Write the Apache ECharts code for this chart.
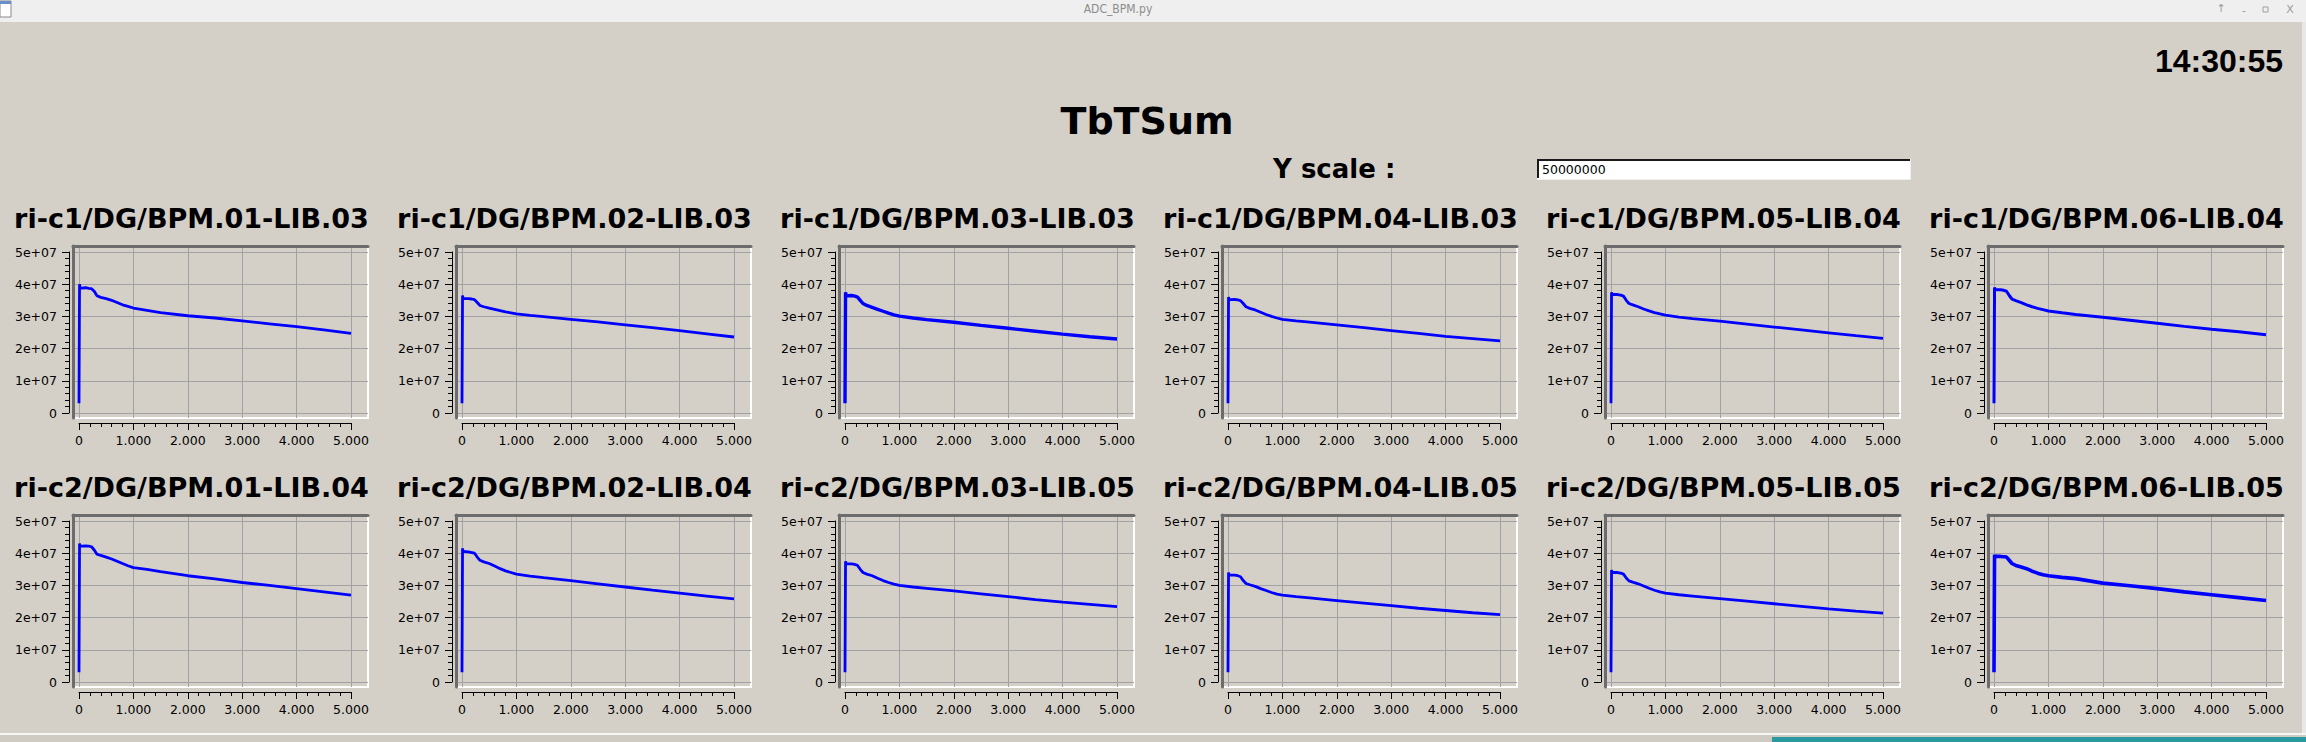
<!DOCTYPE html>
<html>
<head>
<meta charset="utf-8">
<script src="https://cdn.jsdelivr.net/npm/echarts@6/dist/echarts.min.js"></script>
<style>
html,body{margin:0;padding:0;background:#d4d0c8;}
#chart{width:2306px;height:742px;}
</style>
</head>
<body>
<div id="chart"></div>
<script>
// ---------------- DATA ----------------
const windowTitle = 'ADC_BPM.py';
const mainTitle = 'TbTSum';
const clockText = '14:30:55';
const yScaleLabel = 'Y scale :';
const yScaleValue = '50000000';

const panelTitles = [
  'ri-c1/DG/BPM.01-LIB.03', 'ri-c1/DG/BPM.02-LIB.03', 'ri-c1/DG/BPM.03-LIB.03',
  'ri-c1/DG/BPM.04-LIB.03', 'ri-c1/DG/BPM.05-LIB.04', 'ri-c1/DG/BPM.06-LIB.04',
  'ri-c2/DG/BPM.01-LIB.04', 'ri-c2/DG/BPM.02-LIB.04', 'ri-c2/DG/BPM.03-LIB.05',
  'ri-c2/DG/BPM.04-LIB.05', 'ri-c2/DG/BPM.05-LIB.05', 'ri-c2/DG/BPM.06-LIB.05'
];

const xTickValues = [0, 1000, 2000, 3000, 4000, 5000];
const xTickLabels = ['0', '1.000', '2.000', '3.000', '4.000', '5.000'];
const yTickValues = [0, 1e7, 2e7, 3e7, 4e7, 5e7];
const yTickLabels = ['0', '1e+07', '2e+07', '3e+07', '4e+07', '5e+07'];

// turn index (x) of sampled points
const turns = [0, 10, 20, 60, 120, 180, 230, 280, 330, 400, 500, 600, 700, 800, 900, 1000, 1250, 1500, 2000, 2500, 3000, 3500, 4000, 4500, 5000];
// sum values, in millions
const sum_c1_01 = [3.0, 40.0, 38.8, 38.8, 38.9, 38.7, 38.6, 37.8, 36.4, 35.9, 35.5, 35.0, 34.3, 33.6, 33.1, 32.6, 31.9, 31.2, 30.2, 29.5, 28.6, 27.7, 26.8, 25.8, 24.7];
const sum_c1_02 = [3.0, 36.5, 35.5, 35.5, 35.5, 35.4, 35.2, 34.3, 33.4, 33.0, 32.6, 32.2, 31.8, 31.4, 31.1, 30.8, 30.3, 29.9, 29.1, 28.3, 27.4, 26.5, 25.6, 24.6, 23.6];
const sum_c1_03 = [3.0, 37.5, 36.4, 36.4, 36.5, 36.3, 36.0, 35.0, 34.0, 33.4, 32.8, 32.2, 31.6, 31.0, 30.5, 30.1, 29.5, 29.0, 28.2, 27.2, 26.3, 25.4, 24.5, 23.7, 23.0];
const sum_c1_04 = [3.0, 36.0, 35.2, 35.2, 35.3, 35.1, 34.9, 34.0, 33.0, 32.5, 32.0, 31.3, 30.6, 30.0, 29.5, 29.1, 28.6, 28.2, 27.4, 26.5, 25.6, 24.7, 23.8, 23.1, 22.4];
const sum_c1_05 = [3.0, 37.5, 36.8, 36.8, 36.8, 36.6, 36.3, 35.0, 34.0, 33.6, 33.0, 32.3, 31.7, 31.2, 30.8, 30.4, 29.8, 29.3, 28.5, 27.6, 26.7, 25.8, 24.9, 24.0, 23.2];
const sum_c1_06 = [3.0, 39.0, 38.3, 38.3, 38.3, 38.1, 37.8, 36.5, 35.4, 34.9, 34.3, 33.6, 33.0, 32.5, 32.1, 31.7, 31.1, 30.6, 29.7, 28.8, 27.9, 26.9, 26.0, 25.2, 24.3];
const sum_c2_01 = [3.0, 43.0, 42.3, 42.2, 42.3, 42.2, 42.0, 41.0, 39.7, 39.3, 38.8, 38.2, 37.5, 36.8, 36.1, 35.5, 35.0, 34.3, 33.0, 32.0, 30.9, 30.0, 29.0, 28.0, 27.0];
const sum_c2_02 = [3.0, 41.5, 40.5, 40.5, 40.4, 40.2, 40.0, 38.8, 37.8, 37.3, 36.8, 36.0, 35.2, 34.5, 34.0, 33.5, 32.9, 32.4, 31.5, 30.5, 29.5, 28.5, 27.6, 26.7, 25.8];
const sum_c2_03 = [3.0, 37.5, 36.7, 36.7, 36.7, 36.5, 36.2, 35.0, 34.0, 33.5, 33.0, 32.2, 31.5, 30.9, 30.4, 30.0, 29.5, 29.1, 28.3, 27.4, 26.5, 25.6, 24.8, 24.1, 23.4];
const sum_c2_04 = [3.0, 34.0, 33.2, 33.2, 33.2, 33.0, 32.7, 31.5, 30.6, 30.2, 29.7, 29.0, 28.4, 27.8, 27.3, 27.0, 26.5, 26.1, 25.3, 24.5, 23.7, 22.9, 22.2, 21.5, 20.9];
const sum_c2_05 = [3.0, 34.8, 34.0, 34.0, 34.0, 33.8, 33.5, 32.3, 31.4, 31.0, 30.5, 29.8, 29.1, 28.5, 28.0, 27.6, 27.1, 26.7, 25.9, 25.1, 24.3, 23.5, 22.7, 22.0, 21.4];
const sum_c2_06 = [3.0, 39.5, 39.0, 39.0, 39.0, 38.9, 38.8, 37.8, 36.8, 36.2, 35.7, 35.2, 34.4, 33.8, 33.3, 33.0, 32.5, 32.1, 30.7, 29.9, 29.0, 28.0, 27.1, 26.2, 25.3];

const panelSeries = [sum_c1_01, sum_c1_02, sum_c1_03, sum_c1_04, sum_c1_05, sum_c1_06,
                     sum_c2_01, sum_c2_02, sum_c2_03, sum_c2_04, sum_c2_05, sum_c2_06];
const VALUE_UNIT = 1e6;
const X_MAX = 5000, Y_MAX = 5e7;

// ---------------- LAYOUT / STYLE ----------------
const COLS = 6;
const COL_PITCH = 383, ROW_PITCH = 269;
const DATA_LEFT0 = 79, DATA_TOP0 = 252, DATA_W = 272, DATA_H = 161;
const PAD = {l: 6, r: 17, t: 6, b: 5};
const TITLE_CX0 = 191.5, TITLE_CY0 = 218;
const lineWidths = [2.8, 2.8, 3.4, 2.8, 2.8, 3.0, 2.8, 2.8, 2.8, 2.8, 2.8, 3.6];
const FONT = 'DejaVu Sans';
const BG = '#d4d0c8';
const GRIDLINE = '#a2a2a6';

const grids = [], xAxes = [], yAxes = [], series = [], graphics = [];

panelSeries.forEach((vals, i) => {
  const c = i % COLS, r = Math.floor(i / COLS);
  const dl = DATA_LEFT0 + c * COL_PITCH;
  const dt = DATA_TOP0 + r * ROW_PITCH;
  // frame grid (sunken panel with grid lines)
  grids.push({
    left: dl - PAD.l, top: dt - PAD.t, width: DATA_W + PAD.l + PAD.r, height: DATA_H + PAD.t + PAD.b,
    show: true, borderColor: '#ffffff', borderWidth: 2, backgroundColor: 'transparent'
  });
  const fi = grids.length - 1;
  xAxes.push({
    type: 'value', gridIndex: fi, position: 'top',
    min: -PAD.l / DATA_W * X_MAX, max: X_MAX + PAD.r / DATA_W * X_MAX,
    axisLine: {show: true, onZero: false, lineStyle: {color: '#6c6c6c', width: 3}},
    axisTick: {show: false, customValues: xTickValues},
    axisLabel: {show: false, customValues: xTickValues},
    splitLine: {show: true, lineStyle: {color: GRIDLINE, width: 1}}
  });
  yAxes.push({
    type: 'value', gridIndex: fi, position: 'left',
    min: -PAD.b / DATA_H * Y_MAX, max: Y_MAX + PAD.t / DATA_H * Y_MAX,
    axisLine: {show: true, onZero: false, lineStyle: {color: '#6c6c6c', width: 3}},
    axisTick: {show: false, customValues: yTickValues},
    axisLabel: {show: false, customValues: yTickValues},
    splitLine: {show: true, lineStyle: {color: GRIDLINE, width: 1}}
  });
  // data grid with the detached scales
  grids.push({left: dl, top: dt, width: DATA_W, height: DATA_H, show: false});
  const di = grids.length - 1;
  xAxes.push({
    type: 'value', gridIndex: di, position: 'bottom', offset: 10,
    min: 0, max: X_MAX, interval: 1000,
    axisLine: {show: true, onZero: false, lineStyle: {color: '#000', width: 1}},
    axisTick: {show: true, length: 7, lineStyle: {color: '#000'}},
    minorTick: {show: true, splitNumber: 5, length: 4, lineStyle: {color: '#000'}},
    axisLabel: {show: true, margin: 11, fontSize: 12.5, fontFamily: FONT, color: '#000',
      formatter: v => xTickLabels[xTickValues.indexOf(v)] ?? ''},
    splitLine: {show: false}
  });
  yAxes.push({
    type: 'value', gridIndex: di, position: 'left', offset: 10,
    min: 0, max: Y_MAX, interval: 1e7,
    axisLine: {show: true, onZero: false, lineStyle: {color: '#000', width: 1}},
    axisTick: {show: true, length: 7, lineStyle: {color: '#000'}},
    minorTick: {show: true, splitNumber: 5, length: 4, lineStyle: {color: '#000'}},
    axisLabel: {show: true, margin: 12, fontSize: 12.5, fontFamily: FONT, color: '#000',
      formatter: v => yTickLabels[yTickValues.indexOf(v)] ?? ''},
    splitLine: {show: false}
  });
  series.push({
    type: 'line', name: panelTitles[i], xAxisIndex: di, yAxisIndex: di,
    data: turns.map((t, k) => [t, vals[k] * VALUE_UNIT]),
    showSymbol: false, symbol: 'none', silent: true, animation: false,
    lineStyle: {color: '#0000ff', width: lineWidths[i]}
  });
  graphics.push({
    type: 'text', x: TITLE_CX0 + c * COL_PITCH, y: TITLE_CY0 + r * ROW_PITCH,
    style: {text: panelTitles[i], font: 'bold 27px "DejaVu Sans"', fill: '#000',
      align: 'center', verticalAlign: 'middle'}
  });
});

// window chrome & header
graphics.unshift(
  {type: 'rect', shape: {x: 0, y: 0, width: 2306, height: 22}, style: {fill: '#efefef'}},
  {type: 'rect', shape: {x: 0, y: 1, width: 11, height: 16}, style: {fill: '#ffffff', stroke: '#8a8a8a', lineWidth: 1}},
  {type: 'rect', shape: {x: 0, y: 1, width: 11, height: 3}, style: {fill: '#6a8fc8'}},
  {type: 'text', x: 1118, y: 9, style: {text: windowTitle, font: '12px "DejaVu Sans Condensed", "DejaVu Sans"', fill: '#8c8c8c', align: 'center', verticalAlign: 'middle'}},
  {type: 'text', x: 2221, y: 8, style: {text: '↑', font: '11px "DejaVu Sans"', fill: '#9a9a9a', align: 'center', verticalAlign: 'middle'}},
  {type: 'text', x: 2244, y: 10, style: {text: '-', font: '11px "DejaVu Sans"', fill: '#9a9a9a', align: 'center', verticalAlign: 'middle'}},
  {type: 'rect', shape: {x: 2263, y: 7, width: 5, height: 5}, style: {fill: 'none', stroke: '#a0a0a0', lineWidth: 1}},
  {type: 'text', x: 2290, y: 9, style: {text: 'X', font: '11px "DejaVu Sans"', fill: '#9a9a9a', align: 'center', verticalAlign: 'middle'}},
  {type: 'text', x: 2283, y: 61, style: {text: clockText, font: 'bold 32px "Liberation Sans"', fill: '#000', align: 'right', verticalAlign: 'middle'}},
  {type: 'text', x: 1147, y: 121, style: {text: mainTitle, font: 'bold 38px "DejaVu Sans"', fill: '#000', align: 'center', verticalAlign: 'middle'}},
  {type: 'text', x: 1273, y: 169, style: {text: yScaleLabel, font: 'bold 26px "DejaVu Sans"', fill: '#000', align: 'left', verticalAlign: 'middle'}},
  {type: 'rect', shape: {x: 1537, y: 159, width: 373, height: 20}, style: {fill: '#ffffff'}},
  {type: 'polyline', shape: {points: [[1538, 178], [1538, 160], [1910, 160]]}, style: {stroke: '#1a1a1a', lineWidth: 2, fill: 'none'}},
  {type: 'polyline', shape: {points: [[1537, 179.5], [1910.5, 179.5], [1910.5, 159]]}, style: {stroke: '#f0f0f0', lineWidth: 1, fill: 'none'}},
  {type: 'text', x: 1542, y: 169, style: {text: yScaleValue, font: '12.5px "DejaVu Sans"', fill: '#000', align: 'left', verticalAlign: 'middle'}},
  // bottom edge of window and underlying desktop
  {type: 'rect', shape: {x: 0, y: 733, width: 2306, height: 2}, style: {fill: '#f6f6f6'}},
  {type: 'rect', shape: {x: 0, y: 735, width: 2306, height: 7}, style: {fill: '#cfcbc3'}},
  {type: 'rect', shape: {x: 1772, y: 737, width: 534, height: 5}, style: {fill: '#2a9aa0'}},
  {type: 'rect', shape: {x: 2302, y: 22, width: 4, height: 711}, style: {fill: '#e8e8e8'}}
);

const chart = echarts.init(document.getElementById('chart'), null, {renderer: 'svg', width: 2306, height: 742});
chart.setOption({
  backgroundColor: BG,
  animation: false,
  grid: grids,
  xAxis: xAxes,
  yAxis: yAxes,
  series: series,
  graphic: {elements: graphics}
});
</script>
</body>
</html>
